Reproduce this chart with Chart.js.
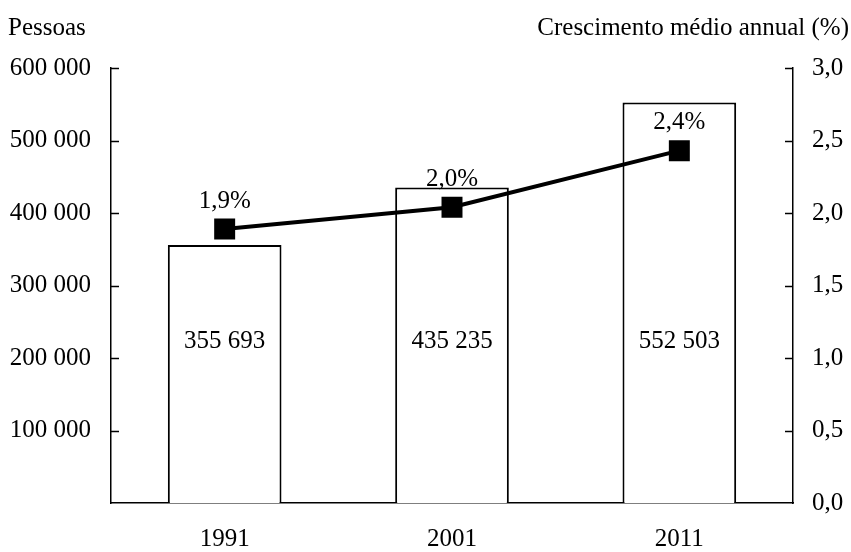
<!DOCTYPE html>
<html lang="pt">
<head>
<meta charset="utf-8">
<title>População e crescimento médio anual</title>
<script src="https://cdn.jsdelivr.net/npm/chart.js"></script>
<style>
  body { margin: 0; background: #fff; }
  .chart-container { position: relative; width: 851px; height: 552px; }
</style>
</head>
<body>
<div class="chart-container"><canvas id="grafico"></canvas></div>
<script>
  // Dados
  const anos = ['1991', '2001', '2011'];
  const pessoas = [355693, 435235, 552503];
  const crescimento = [1.89, 2.04, 2.43];
  const tituloEsq = 'Pessoas';
  const tituloDir = 'Crescimento médio annual (%)';

  const fonte = 'Liberation Serif';
  const tam = 25;

  function milhares(v) {
    return String(v).replace(/\B(?=(\d{3})+(?!\d))/g, ' ');
  }
  function decimal(v) {
    return v.toFixed(1).replace('.', ',');
  }

  // Títulos, rótulos e marcas dos eixos viradas para dentro
  const extras = {
    id: 'extras',
    afterDatasetsDraw(chart) {
      const ctx = chart.ctx;
      const area = chart.chartArea;
      const yE = chart.scales.y;
      const yD = chart.scales.y1;
      ctx.save();
      ctx.strokeStyle = '#000';
      ctx.lineWidth = 1.5;
      yE.ticks.forEach(t => {
        if (t.value === 0) return;
        const p = Math.round(yE.getPixelForValue(t.value)) + 0.5;
        ctx.beginPath(); ctx.moveTo(area.left, p); ctx.lineTo(area.left + 8, p); ctx.stroke();
      });
      yD.ticks.forEach(t => {
        if (t.value === 0) return;
        const p = Math.round(yD.getPixelForValue(t.value)) + 0.5;
        ctx.beginPath(); ctx.moveTo(area.right, p); ctx.lineTo(area.right - 8, p); ctx.stroke();
      });

      ctx.fillStyle = '#000';
      ctx.font = tam + 'px "' + fonte + '"';
      ctx.textBaseline = 'middle';
      ctx.textAlign = 'left';
      ctx.fillText(tituloEsq, 8, 28);
      ctx.textAlign = 'right';
      ctx.fillText(tituloDir, 849, 28);

      ctx.textAlign = 'center';
      chart.getDatasetMeta(1).data.forEach((bar, i) => {
        ctx.fillText(milhares(pessoas[i]), bar.x, area.bottom - 162);
      });
      chart.getDatasetMeta(0).data.forEach((pt, i) => {
        ctx.fillText(decimal(crescimento[i]) + '%', pt.x, pt.y - 28);
      });
      ctx.restore();
    }
  };

  new Chart(document.getElementById('grafico'), {
    data: {
      labels: anos,
      datasets: [
        {
          type: 'line',
          data: crescimento,
          yAxisID: 'y1',
          order: 0,
          borderColor: '#000',
          borderWidth: 4,
          pointStyle: 'rect',
          pointRadius: 12,
          pointBackgroundColor: '#000',
          pointBorderColor: '#000',
          tension: 0
        },
        {
          type: 'bar',
          data: pessoas,
          yAxisID: 'y',
          order: 1,
          backgroundColor: '#fff',
          borderColor: '#000',
          borderWidth: 2,
          barPercentage: 0.5,
          categoryPercentage: 1
        }
      ]
    },
    options: {
      responsive: true,
      maintainAspectRatio: false,
      animation: false,
      layout: { padding: { top: 68, left: 0, right: 0, bottom: 0 } },
      plugins: { legend: { display: false }, tooltip: { enabled: false } },
      scales: {
        x: {
          grid: { display: false },
          border: { display: true, color: '#000', width: 1.5 },
          ticks: { color: '#000', padding: 13, font: { family: fonte, size: tam } },
          afterFit(s) { s.height = 49; }
        },
        y: {
          position: 'left',
          min: 0,
          max: 600000,
          grid: { display: false, drawTicks: false },
          border: { display: true, color: '#000', width: 1.5 },
          ticks: {
            stepSize: 100000,
            padding: 20,
            color: '#000',
            font: { family: fonte, size: tam },
            callback: v => (v === 0 ? '' : milhares(v))
          },
          afterFit(s) { s.width = 111; }
        },
        y1: {
          position: 'right',
          min: 0,
          max: 3,
          grid: { display: false, drawTicks: false },
          border: { display: true, color: '#000', width: 1.5 },
          ticks: {
            stepSize: 0.5,
            padding: 19,
            color: '#000',
            font: { family: fonte, size: tam },
            callback: v => decimal(v)
          },
          afterFit(s) { s.width = 58; }
        }
      }
    },
    plugins: [extras]
  });
</script>
</body>
</html>
